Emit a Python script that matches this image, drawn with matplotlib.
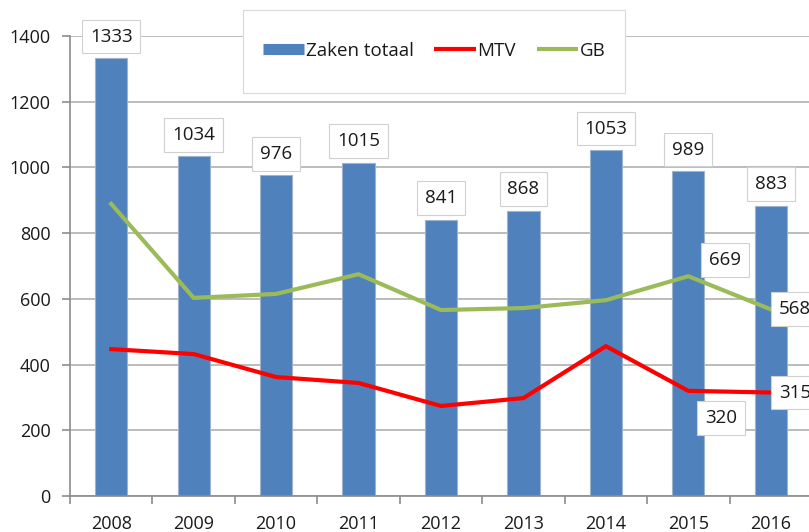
import matplotlib.pyplot as plt
from matplotlib.lines import Line2D
from matplotlib.patches import Rectangle
import numpy as np

years = ['2008', '2009', '2010', '2011', '2012', '2013', '2014', '2015', '2016']
zaken = [1333, 1034, 976, 1015, 841, 868, 1053, 989, 883]
mtv = [447, 432, 362, 344, 274, 298, 456, 320, 315]
gb = [889, 603, 615, 675, 566, 572, 596, 669, 568]

plt.rcParams['font.family'] = ['Open Sans', 'DejaVu Sans']

W, H = 809, 532
fig = plt.figure(figsize=(W/100, H/100), dpi=100)
x0, x1, yb, yt = 70, 812, 496, 36
ax = fig.add_axes([x0/W, 1 - yb/H, (x1-x0)/W, (yb-yt)/H])

x = np.arange(len(years))
blue = '#4f81bd'
red = '#ff0000'
green = '#9bbb59'
ax.bar(x, zaken, width=0.39, color=blue, edgecolor='#9fb3cc', linewidth=0.8, zorder=2)
ax.plot(x, mtv, color=red, lw=3, zorder=3)
ax.plot(x, gb, color=green, lw=3, zorder=3)

ax.set_xlim(-0.5, len(years) - 0.5)
ax.set_ylim(0, 1400)
ax.set_yticks(range(0, 1401, 200))
ax.yaxis.grid(True, color='#b0b0b0', lw=1.2, zorder=0)
ax.set_axisbelow(True)
for s in ['top', 'right']:
    ax.spines[s].set_visible(False)
for s in ['left', 'bottom']:
    ax.spines[s].set_color('#8c8c8c')
    ax.spines[s].set_linewidth(1.2)

fs = 13
ax.set_xticks(x)
ax.set_xticklabels(years)
ax.set_xticks(np.arange(-0.5, len(years), 1), minor=True)
ax.tick_params(axis='x', which='major', length=0, pad=14, labelsize=fs, labelcolor='#1a1a1a')
ax.tick_params(axis='x', which='minor', length=6, color='#8c8c8c', width=1.2)
ax.tick_params(axis='y', length=6, color='#8c8c8c', width=1.2, labelsize=fs, labelcolor='#1a1a1a', pad=8)

bbox = dict(boxstyle='square,pad=0.42', fc='white', ec='#d0d0d0', lw=0.8)
lfs = 13.5
for xi, v in zip(x, zaken):
    ax.annotate(str(v), (xi, v), xytext=(0, 9), textcoords='offset points',
                ha='center', va='bottom', fontsize=lfs, color='#1a1a1a', bbox=bbox, zorder=5)

ax.annotate(str(gb[7]), (7, gb[7]), xytext=(15, 5), textcoords='offset points',
            ha='left', va='bottom', fontsize=lfs, color='#1a1a1a', bbox=bbox, zorder=5)
ax.annotate(str(gb[8]), (8, gb[8]), xytext=(6, 0), textcoords='offset points',
            ha='left', va='center', fontsize=lfs, color='#1a1a1a', bbox=bbox, zorder=5)
ax.annotate(str(mtv[7]), (7, mtv[7]), xytext=(12, -13), textcoords='offset points',
            ha='left', va='top', fontsize=lfs, color='#1a1a1a', bbox=bbox, zorder=5)
ax.annotate(str(mtv[8]), (8, mtv[8]), xytext=(6, 0), textcoords='offset points',
            ha='left', va='center', fontsize=lfs, color='#1a1a1a', bbox=bbox, zorder=5)

# legend frame
lx0, lx1, ly0, ly1 = 243, 625, 10, 93
fig.patches.append(Rectangle((lx0/W, 1 - ly1/H), (lx1-lx0)/W, (ly1-ly0)/H,
                             transform=fig.transFigure, fc='white', ec='#d9d9d9',
                             lw=0.8, zorder=10))
handles = [Line2D([], [], color=blue, lw=8, solid_capstyle='butt'),
           Line2D([], [], color=red, lw=3, solid_capstyle='butt'),
           Line2D([], [], color=green, lw=3, solid_capstyle='butt')]
labels = ['Zaken totaal', 'MTV', 'GB']
leg = fig.legend(handles, labels, loc='center', bbox_to_anchor=((lx0+lx1)/2/W, 1 - 51/H), ncol=3,
                 frameon=False, fontsize=lfs,
                 handlelength=2.2, handletextpad=0.1, columnspacing=1.1,
                 borderpad=0, borderaxespad=0)
leg.set_zorder(11)
for t in leg.get_texts():
    t.set_color('#1a1a1a')

fig.savefig('out.png', dpi=100)
